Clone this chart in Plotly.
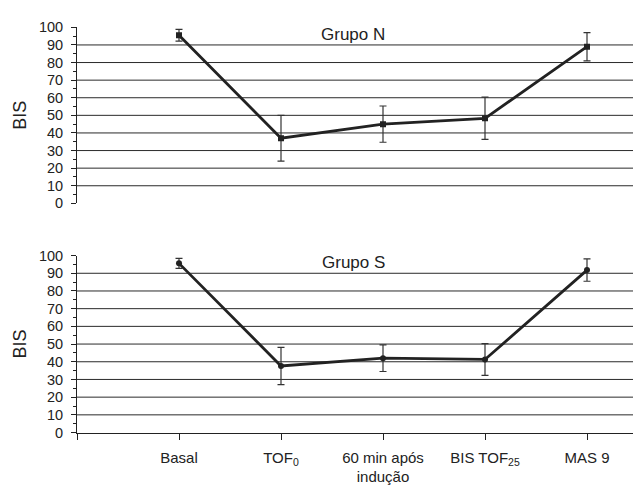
import plotly.graph_objects as go

categories = ["Basal", "TOF<sub>0</sub>", "60 min após<br>indução", "BIS TOF<sub>25</sub>", "MAS 9"]
x_pos = [1, 2, 3, 4, 5]

grupo_n_mean = [95.5, 37.0, 45.0, 48.3, 89.0]
grupo_n_sd = [3.3, 13.0, 10.3, 12.0, 8.0]

grupo_s_mean = [95.6, 37.6, 42.0, 41.3, 91.8]
grupo_s_sd = [2.8, 10.5, 7.5, 9.0, 6.3]

grid_vals = [10, 20, 30, 40, 50, 60, 70, 80, 90]
ytick_vals = [0, 10, 20, 30, 40, 50, 60, 70, 80, 90, 100]

W, H = 633, 486
FONT = "Liberation Sans, Arial, Helvetica, sans-serif"
INK = "#222222"

fig = go.Figure()

def add_series(mean, sd, xa, ya, symbol):
    fig.add_trace(go.Scatter(
        x=x_pos, y=mean, xaxis=xa, yaxis=ya, mode="lines+markers",
        line=dict(color=INK, width=2.8),
        marker=dict(symbol=symbol, size=6, color=INK),
        error_y=dict(type="data", array=sd, visible=True, color="#333333", thickness=1.2, width=3.5),
        showlegend=False, hoverinfo="skip",
    ))

add_series(grupo_n_mean, grupo_n_sd, "x", "y", "square")
add_series(grupo_s_mean, grupo_s_sd, "x2", "y2", "circle")

x_left = 77 / W
top_dom = [(H - 202) / H, (H - 20) / H]
bot_dom = [(H - 439) / H, (H - 256) / H]
xrange = [0, (W - 77) / 102.0]

yaxis_common = dict(
    range=[0, 100], tickvals=ytick_vals, showgrid=False, zeroline=False,
    showline=True, linecolor=INK, linewidth=1, ticks="outside", ticklen=5,
    tickcolor=INK, tickwidth=1, ticklabelstandoff=5,
    minor=dict(tickvals=[5, 15, 25, 35, 45, 55, 65, 75, 85, 95], ticks="outside", ticklen=3, tickcolor=INK, tickwidth=1, showgrid=False),
    tickfont=dict(family=FONT, size=14.5, color=INK),
    title=dict(text="BIS", font=dict(family=FONT, size=18, color=INK), standoff=7),
    fixedrange=True,
)

fig.update_layout(
    width=W, height=H,
    margin=dict(l=0, r=0, t=0, b=0),
    paper_bgcolor="white", plot_bgcolor="white",
    xaxis=dict(domain=[x_left, 1], range=xrange, anchor="y", showline=False, showgrid=False,
               zeroline=False, showticklabels=False, ticks=""),
    yaxis=dict(domain=top_dom, anchor="x", **yaxis_common),
    xaxis2=dict(domain=[x_left, 1], range=xrange, anchor="y2", showline=True, linecolor=INK, linewidth=1,
                showgrid=False, zeroline=False, ticks="outside", ticklen=6, tickcolor=INK,
                ticklabelstandoff=5,
                tickvals=x_pos, ticktext=categories,
                minor=dict(tickvals=[0], ticks="outside", ticklen=6, tickcolor=INK, tickwidth=1, showgrid=False),
                tickfont=dict(family=FONT, size=15, color=INK)),
    yaxis2=dict(domain=bot_dom, anchor="x2", **yaxis_common),
)

shapes = []
for xr, yr in (("x domain", "y"), ("x2 domain", "y2")):
    for v in grid_vals:
        shapes.append(dict(type="line", xref=xr, yref=yr, x0=0, x1=1, y0=v, y1=v,
                           line=dict(color="#2a2a2a", width=1), layer="below"))
fig.update_layout(shapes=shapes)

fig.add_annotation(x=2.71, y=96, xref="x", yref="y", text="Grupo N", showarrow=False,
                   font=dict(family=FONT, size=17, color=INK))
fig.add_annotation(x=2.71, y=96, xref="x2", yref="y2", text="Grupo S", showarrow=False,
                   font=dict(family=FONT, size=17, color=INK))

fig.write_html("out.html")
